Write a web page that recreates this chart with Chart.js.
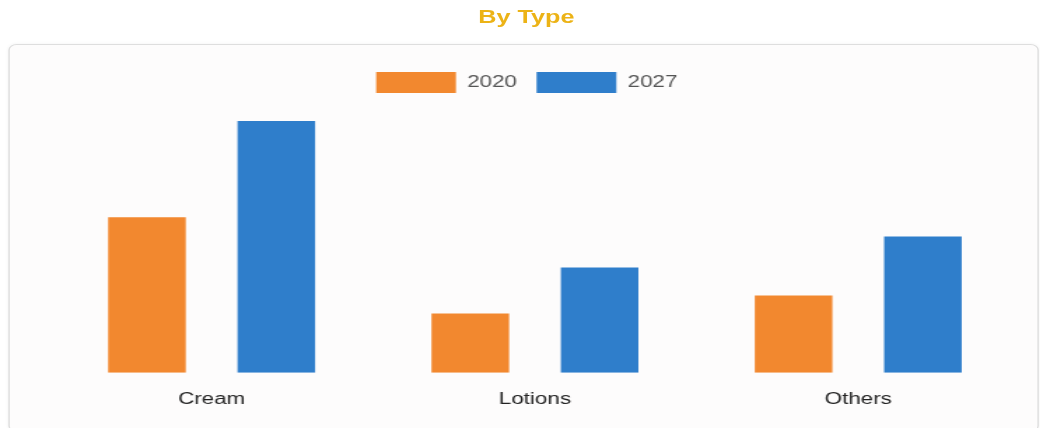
<!DOCTYPE html>
<html>
<head>
<meta charset="utf-8">
<script src="https://cdn.jsdelivr.net/npm/chart.js@4.4.1/dist/chart.umd.min.js"></script>
<style>
  html, body { margin: 0; padding: 0; background: #fff; overflow: hidden; }
  /* the whole layout is drawn narrow, then widened */
  #page {
    position: relative;
    width: 743px;
    height: 428px;
    transform: scaleX(1.4);
    transform-origin: 0 0;
  }
  #title {
    position: absolute;
    left: 0; top: 7px;
    width: 752px;
    text-align: center;
    font: bold 18px/20px "Liberation Sans", Arial, sans-serif;
    color: #ecb316;
  }
  #card {
    position: absolute;
    left: 6px; top: 44px;
    width: 734px; height: 386px;
    border: 1px solid #dedede;
    border-radius: 6px;
    background: #fdfcfc;
    box-shadow: 0 0 3px rgba(0,0,0,0.06);
  }
  #wrap {
    position: absolute;
    left: 0; top: 44px;
    width: 743px; height: 384px;
  }
</style>
</head>
<body>
<div id="page">
  <div id="title">By Type</div>
  <div id="card"></div>
  <div id="wrap"><canvas id="chart"></canvas></div>
</div>
<script>
const categories = ['Cream', 'Lotions', 'Others'];
const years = ['2020', '2027'];
const values2020 = [15.5, 5.9, 7.7];
const values2027 = [25.1, 10.5, 13.6];
const colors = ['#f2882f', '#2f7ecb'];

let ctx = document.getElementById('chart').getContext('2d');
let chart = new Chart(ctx, {
    type: 'bar',
    data: {
        labels: categories,
        datasets: [{
            label: years[0],
            backgroundColor: colors[0],
            data: values2020,
            categoryPercentage: 0.8,
            barPercentage: 0.6
        }, {
            label: years[1],
            backgroundColor: colors[1],
            data: values2027,
            categoryPercentage: 0.8,
            barPercentage: 0.6
        }]
    },
    options: {
        responsive: true,
        maintainAspectRatio: false,
        animation: false,
        layout: { padding: { top: 14, left: 24, right: 14.5, bottom: 2 } },
        plugins: {
            tooltip: { enabled: false },
            legend: {
                position: 'top',
                labels: {
                    boxWidth: 57,
                    boxHeight: 21,
                    padding: 14,
                    color: '#555',
                    font: { family: '"Liberation Sans", Arial, sans-serif', size: 16 }
                }
            }
        },
        scales: {
            x: {
                grid: { display: false, drawTicks: false },
                border: { display: false },
                ticks: {
                    padding: 17,
                    color: '#222',
                    font: { family: '"Liberation Sans", Arial, sans-serif', size: 16 }
                }
            },
            y: {
                min: 0,
                max: 26.9,
                grid: { display: false, drawTicks: false },
                border: { display: false },
                ticks: { display: false },
                afterFit: function(scale) { scale.width = 11.7; }
            }
        }
    }
});
</script>
</body>
</html>
